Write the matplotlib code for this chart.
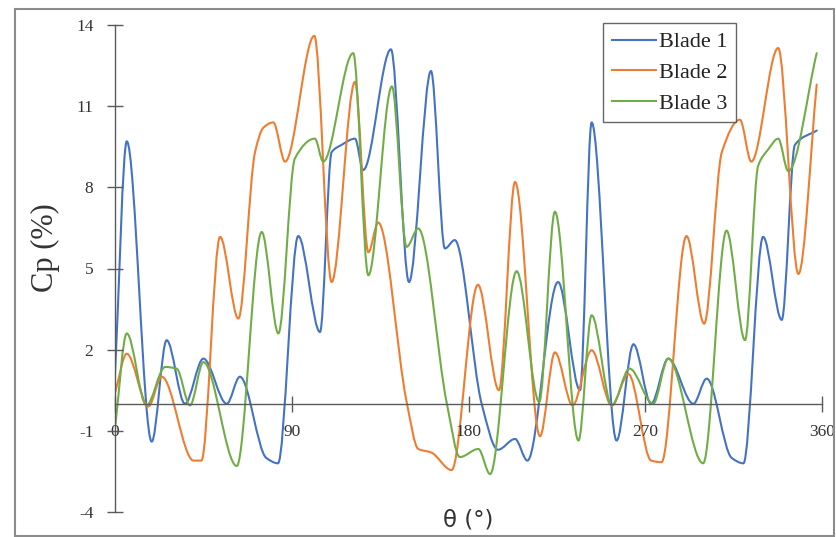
import matplotlib
matplotlib.use("Agg")
import matplotlib.pyplot as plt
import numpy as np
from matplotlib.path import Path
from matplotlib.patches import PathPatch, Rectangle
from matplotlib.lines import Line2D

# ---- data ----
theta_b1 = [0, 6, 18.7, 26.3, 35.6, 45, 56.9, 63.6, 77, 83, 93.3, 104.4, 110.3, 115.4, 122.2,
            126.4, 140.5, 149.7, 160.9, 168, 173, 186.7, 195, 203.7, 210, 225.6, 236.8, 242.7,
            255.4, 264, 273, 281.7, 294.5, 301.3, 314, 320, 330, 339.5, 346.2, 357.3]
cp_b1 = [1.1, 9.7, -1.4, 2.35, 0.0, 1.67, 0.0, 1.0, -2.0, -2.2, 6.2, 2.65, 9.3, 9.57, 9.8,
         8.64, 13.1, 4.5, 12.3, 5.74, 6.05, 0.0, -1.7, -1.3, -2.1, 4.5, 0.5, 10.4,
         -1.36, 2.2, 0.0, 1.67, 0.0, 0.93, -2.0, -2.2, 6.17, 3.1, 9.57, 10.1]

theta_b2 = [0, 6, 17, 23.8, 40, 44, 53.5, 62.8, 71.3, 75.5, 80.6, 86.6, 101.5, 110.3, 122.2,
            129, 134, 148.5, 154.4, 161, 171.4, 184.8, 195.5, 203.7, 216.4, 224, 233, 242.7,
            252.9, 261.4, 273, 278.3, 291, 300, 309, 318.2, 324, 337.7, 348, 357.3]
cp_b2 = [0.4, 1.85, -0.1, 1.0, -2.1, -2.1, 6.17, 3.15, 9.3, 10.2, 10.4, 8.95, 13.6, 4.5, 11.9,
         5.6, 6.7, 0.07, -1.67, -1.8, -2.45, 4.4, 0.5, 8.2, -1.2, 1.9, -0.06, 1.98,
         -0.06, 1.1, -2.1, -2.16, 6.2, 2.96, 9.3, 10.5, 8.95, 13.15, 4.8, 11.8]

theta_b3 = [0, 6, 16, 25.5, 31.4, 38.2, 45, 62, 74.7, 83.2, 91.6, 101.8, 106, 121.3, 129, 141,
            148.5, 154.4, 169, 175.6, 185, 191, 204.5, 216, 224, 236, 242.7, 253, 262, 274,
            281.7, 299.5, 311.4, 320.8, 327.5, 332.6, 337.7, 342.8, 357.3]
cp_b3 = [-0.9, 2.6, -0.06, 1.36, 1.3, -0.06, 1.54, -2.3, 6.35, 2.6, 9.07, 9.8, 8.95, 12.96, 4.75, 11.73,
         5.8, 6.48, 0.0, -1.97, -1.67, -2.6, 4.9, 0.07, 7.1, -1.36, 3.27, -0.06, 1.3, 0.0,
         1.67, -2.2, 6.4, 2.35, 8.8, 9.4, 9.8, 8.6, 12.96]

series_names = ["Blade 1", "Blade 2", "Blade 3"]
series_colors = ["#4472C4", "#ED7D31", "#70AD47"]

x_ticks = [0, 90, 180, 270, 360]
y_ticks = [-4, -1, 2, 5, 8, 11, 14]

SERIF = "Liberation Serif"


def smooth_path(xs, ys):
    """Smoothed line drawn as cubic Bezier segments passing through every data point."""
    x = np.asarray(xs, float)
    y = np.asarray(ys, float)
    n = len(x)
    h = np.diff(x)
    d = np.diff(y) / h
    m = np.zeros(n)
    for i in range(1, n - 1):
        if d[i - 1] * d[i] > 0:
            w1 = 2 * h[i] + h[i - 1]
            w2 = h[i] + 2 * h[i - 1]
            m[i] = (w1 + w2) / (w1 / d[i - 1] + w2 / d[i])
    m[0] = d[0]
    m[-1] = d[-1]
    verts = [(x[0], y[0])]
    codes = [Path.MOVETO]
    for i in range(n - 1):
        k = h[i] / 3.0
        verts += [(x[i] + k, y[i] + m[i] * k), (x[i + 1] - k, y[i + 1] - m[i + 1] * k),
                  (x[i + 1], y[i + 1])]
        codes += [Path.CURVE4] * 3
    return Path(verts, codes)


fig = plt.figure(figsize=(8.36, 5.37), dpi=100)
ax = fig.add_axes([115 / 836, 25 / 537, 707 / 836, 487 / 537])

for xs, ys, c in zip([theta_b1, theta_b2, theta_b3], [cp_b1, cp_b2, cp_b3], series_colors):
    ax.add_patch(PathPatch(smooth_path(xs, ys), facecolor="none", edgecolor=c, lw=1.5,
                           capstyle="round", joinstyle="round"))

ax.set_xlim(0, 360)
ax.set_ylim(-4, 14)

for s in ["top", "right"]:
    ax.spines[s].set_visible(False)
ax.spines["bottom"].set_position(("data", 0))
ax.spines["left"].set_position(("data", 0))
for s in ["bottom", "left"]:
    ax.spines[s].set_color("#5a5a5a")
    ax.spines[s].set_linewidth(1.0)

ax.set_xticks(x_ticks)
ax.set_yticks(y_ticks)
ax.set_xticklabels([str(v) for v in x_ticks], fontfamily=SERIF, fontsize=12.5, color="#333333")
ax.set_yticklabels([str(v) for v in y_ticks], fontfamily=SERIF, fontsize=12.5, color="#333333")
ax.tick_params(axis="x", direction="inout", length=11, width=1.0, color="#5a5a5a", pad=9)
ax.tick_params(axis="y", direction="inout", length=11, width=1.0, color="#5a5a5a", pad=10)

fig.text(45 / 836, 1 - 248 / 537, "Cp (%)", rotation=90, ha="center", va="center",
         fontfamily=SERIF, fontsize=22, color="#333333")
fig.text(468 / 836, 1 - 520 / 537, "θ (°)", ha="center", va="center",
         fontfamily="DejaVu Sans", fontsize=16.5, color="#333333")

handles = [Line2D([], [], color=c, lw=1.5) for c in series_colors]
leg = ax.legend(handles, series_names, loc="upper left",
                bbox_to_anchor=(603 / 836, 1 - 23 / 537), bbox_transform=fig.transFigure,
                prop={"family": SERIF, "size": 16}, frameon=True, fancybox=False,
                handlelength=2.0, handletextpad=0.1, labelspacing=0.45, borderpad=0.4,
                borderaxespad=0)
leg.get_frame().set_edgecolor("#404040")
leg.get_frame().set_linewidth(1.0)
for t in leg.get_texts():
    t.set_color("#222222")

fig.patches.append(Rectangle((15 / 836, 1 / 537), 819 / 836, 527 / 537, transform=fig.transFigure,
                             fill=False, edgecolor="#8c8c8c", lw=1.5))

fig.savefig("out.png", dpi=100)
